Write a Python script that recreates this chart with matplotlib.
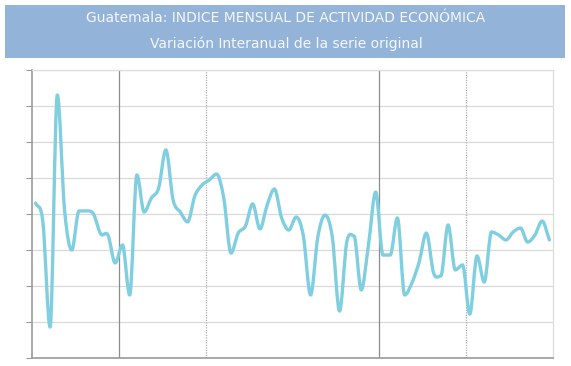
import numpy as np
import matplotlib
matplotlib.use("Agg")
import matplotlib.pyplot as plt
from matplotlib.path import Path
from matplotlib.patches import PathPatch, Rectangle

title = "Guatemala: INDICE MENSUAL DE ACTIVIDAD ECONÓMICA"
subtitle = "Variación Interanual de la serie original"

# variacion interanual, 72 meses
variacion = [
    8.61, 7.56, 1.72, 14.61, 8.22, 6.00, 8.17, 8.17, 8.00, 6.89, 6.83, 5.28,
    6.28, 3.50, 10.17, 8.11, 8.89, 9.44, 11.56, 8.78, 8.11, 7.56, 9.00, 9.61,
    9.89, 10.22, 8.89, 5.83, 6.94, 7.33, 8.56, 7.17, 8.50, 9.39, 7.78, 7.11,
    7.83, 6.78, 3.50, 6.72, 7.94, 6.72, 2.61, 6.44, 6.78, 3.78, 6.28, 9.22,
    5.72, 5.72, 7.78, 3.50, 4.17, 5.33, 6.94, 4.72, 4.56, 7.39, 4.89, 5.17,
    2.44, 5.67, 4.22, 7.00, 6.83, 6.56, 7.00, 7.22, 6.44, 6.83, 7.61, 6.56,
]
meses = np.arange(len(variacion))
y_ticks = [0, 2, 4, 6, 8, 10, 12, 14, 16]
lineas_solidas = [11.5, 47.5]
lineas_punteadas = [23.5, 59.5]

line_color = "#7fcfe0"


def spline_path(x, y):
    # curva suave tipo "spline" (hermite sin falsos extremos)
    x = np.asarray(x, float)
    y = np.asarray(y, float)
    n = len(y)
    m = np.zeros(n)
    for i in range(n):
        if i == 0:
            m[i] = y[1] - y[0]
        elif i == n - 1:
            m[i] = y[-1] - y[-2]
        else:
            if (y[i] - y[i - 1]) * (y[i + 1] - y[i]) <= 0:
                m[i] = 0
            else:
                m[i] = (y[i + 1] - y[i - 1]) / 2
    verts = [(x[0], y[0])]
    codes = [Path.MOVETO]
    for i in range(n - 1):
        d = (x[i + 1] - x[i]) / 3
        verts += [(x[i] + d, y[i] + m[i] * d),
                  (x[i + 1] - d, y[i + 1] - m[i + 1] * d),
                  (x[i + 1], y[i + 1])]
        codes += [Path.CURVE4] * 3
    return Path(verts, codes)


fig = plt.figure(figsize=(5.71, 3.66), dpi=100)
W, H = 571, 366

# caja del titulo
fig.patches.append(Rectangle((5 / W, 1 - 58 / H), 560 / W, 53 / H,
                             transform=fig.transFigure, facecolor="#94b3d8",
                             edgecolor="none"))
fig.text(286 / W, 1 - 18 / H, title, color="#f4f7fb", fontsize=10,
         ha="center", va="center")
fig.text(286 / W, 1 - 44 / H, subtitle, color="#f4f7fb", fontsize=10,
         ha="center", va="center")

ax = fig.add_axes([32 / W, 1 - 358 / H, 521 / W, 288 / H])
ax.set_xlim(-0.5, len(variacion) - 0.5)
ax.set_ylim(y_ticks[0], y_ticks[-1])
ax.set_yticks(y_ticks)
ax.set_yticklabels([])
ax.set_xticks([])
ax.tick_params(axis="y", length=4, color="#999999", width=0.8)
ax.grid(axis="y", color="#d9d9d9", linewidth=0.9)
ax.set_axisbelow(True)

for s in ["left", "bottom"]:
    ax.spines[s].set_color("#9a9a9a")
    ax.spines[s].set_linewidth(1.2)
for s in ["top", "right"]:
    ax.spines[s].set_color("#dddddd")
    ax.spines[s].set_linewidth(0.9)

for xv in lineas_solidas:
    ax.axvline(xv, color="#8c8c8c", linewidth=0.9, zorder=1)
for xv in lineas_punteadas:
    ax.axvline(xv, color="#b0b0b0", linewidth=0.9, linestyle=(0, (1, 1)), zorder=1)

ax.add_patch(PathPatch(spline_path(meses, variacion), facecolor="none",
                       edgecolor=line_color, linewidth=2.4,
                       capstyle="round", joinstyle="round", zorder=3))

fig.savefig("out.png", dpi=100)
